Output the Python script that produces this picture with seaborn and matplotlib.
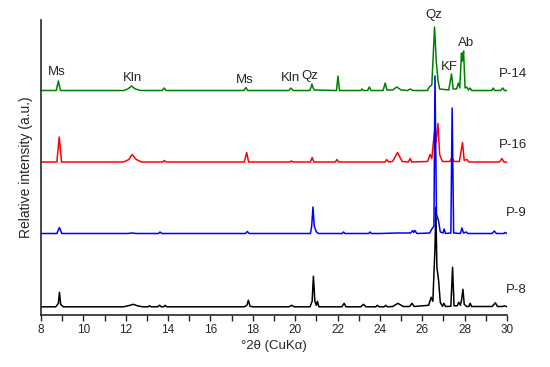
import matplotlib
matplotlib.use("Agg")
import matplotlib.pyplot as plt
import seaborn as sns
import pandas as pd
from matplotlib.ticker import MultipleLocator

# ---------------- data (2θ in degrees, intensity in a.u. above each trace's baseline) -------------
samples = ["P-8", "P-16", "P-9", "P-14"]
offsets = {"P-8": 7.7, "P-9": 81.0, "P-16": 152.5, "P-14": 224.0}
colors = {"P-8": "#000000", "P-9": "#0000FF", "P-16": "#FF0000", "P-14": "#008000"}

p8_x = [8.0, 8.7, 8.82, 8.87, 8.93, 9.05, 11.9, 12.2, 12.36, 12.55, 12.8, 13.05, 13.12, 13.2,
        13.5, 13.59, 13.68, 13.78, 13.86, 13.94, 17.6, 17.72, 17.79, 17.87, 18.0, 19.7, 19.84,
        19.95, 20.7, 20.8, 20.86, 20.93, 21.0, 21.05, 21.12, 22.2, 22.31, 22.4, 23.1, 23.22,
        23.35, 23.8, 23.88, 23.96, 24.2, 24.27, 24.35, 24.6, 24.85, 25.1, 25.4, 25.51, 25.62,
        26.3, 26.42, 26.5, 26.6, 26.64, 26.69, 26.77, 26.85, 26.95, 27.02, 27.1, 27.35, 27.43,
        27.5, 27.65, 27.72, 27.8, 27.86, 27.92, 27.98, 28.1, 28.2, 28.26, 28.33, 29.3, 29.45,
        29.55, 29.8, 29.87, 30.0]
p8_y = [0.5, 0.5, 4, 15, 3, 0.5, 0.5, 2, 3, 1.5, 0.5, 0.5, 1.5, 0.5,
        0.5, 2, 0.5, 0.5, 2, 0.5, 0.5, 2, 7, 1, 0.5, 0.5, 2,
        0.5, 0.5, 6, 31, 6, 2, 6, 0.5, 0.5, 4, 0.5, 0.5, 3,
        0.5, 0.5, 2, 0.5, 0.5, 2, 0.5, 0.8, 4, 0.8, 0.8, 4, 0.8,
        2, 10, 6, 60, 100, 40, 27, 5, 1, 4, 0.8, 1, 40,
        1.5, 1.5, 5, 2, 8, 18, 3, 0.8, 0.8, 4, 0.8, 0.8, 4.5,
        0.8, 0.8, 1.5, 0.5]

p9_x = [8.0, 8.75, 8.87, 8.98, 12.1, 12.3, 12.5, 13.55, 13.62, 13.7, 17.65, 17.74, 17.83,
        20.72, 20.78, 20.84, 20.9, 21.0, 21.1, 22.22, 22.28, 22.35, 23.47, 23.54, 23.6, 24.0,
        24.8, 25.45, 25.55, 25.6, 25.65, 25.75, 26.35, 26.45, 26.55, 26.6, 26.67, 26.77, 26.85,
        26.98, 27.03, 27.1, 27.35, 27.41, 27.48, 27.8, 27.87, 27.95, 28.08, 28.15, 29.3, 29.4,
        29.5, 29.85, 29.9, 30.0]
p9_y = [0.5, 0.5, 6.5, 0.5, 0.5, 1, 0.5, 0.5, 2, 0.5, 0.5, 2.5, 0.5,
        0.5, 8, 27, 8, 2, 0.5, 0.5, 2, 0.5, 0.5, 2, 0.5, 0.5,
        1, 1, 3.5, 1.5, 3.5, 0.5, 1, 5, 8, 158, 20, 13, 2,
        1, 5, 0.5, 1, 126, 1, 0.5, 6, 1, 2, 0.5, 0.5, 3,
        0.5, 0.5, 1.5, 0.5]

p16_x = [8.0, 8.75, 8.86, 8.97, 11.9, 12.15, 12.3, 12.5, 12.75, 13.75, 13.82, 13.9, 17.6, 17.71,
         17.8, 19.75, 19.82, 19.9, 20.72, 20.8, 20.88, 21.9, 21.97, 22.05, 24.25, 24.32, 24.4,
         24.6, 24.83, 25.05, 25.35, 25.43, 25.5, 26.25, 26.37, 26.45, 26.58, 26.65, 26.74, 26.82,
         26.95, 27.3, 27.4, 27.5, 27.75, 27.9, 27.98, 28.1, 28.2, 29.65, 29.76, 29.85, 30.0]
p16_y = [0.5, 0.5, 25.5, 0.5, 0.5, 3, 8, 3, 0.5, 0.5, 2, 0.5, 0.5, 10,
         0.5, 0.5, 1.5, 0.5, 0.5, 5, 0.5, 0.5, 3, 0.5, 0.5, 3, 0.5,
         1, 10, 1, 0.5, 4, 0.5, 1, 8, 4, 32, 20, 39, 8,
         1, 1, 5, 1, 1, 20, 2, 3, 0.5, 0.5, 4, 0.5, 0.5]

p14_x = [8.0, 8.72, 8.82, 8.92, 11.9, 12.1, 12.27, 12.45, 12.7, 13.72, 13.82, 13.9, 17.58, 17.67,
         17.76, 19.7, 19.8, 19.9, 20.7, 20.79, 20.85, 20.9, 21.95, 22.02, 22.09, 23.1, 23.16,
         23.22, 23.42, 23.5, 23.58, 24.15, 24.25, 24.33, 24.6, 24.8, 25.0, 25.3, 25.43, 25.55,
         26.25, 26.33, 26.45, 26.58, 26.66, 26.74, 26.82, 27.25, 27.38, 27.46, 27.62, 27.7,
         27.77, 27.85, 27.9, 27.95, 28.02, 28.1, 28.18, 28.26, 28.33, 29.28, 29.35, 29.42,
         29.7, 29.8, 29.88, 30.0]
p14_y = [0.5, 0.5, 10, 0.5, 0.5, 2, 5, 2, 0.5, 0.5, 3, 0.5, 0.5, 3.5,
         0.5, 0.5, 3, 0.5, 0.5, 7, 3, 1, 0.5, 15, 0.5, 0.5, 2,
         0.5, 0.5, 4, 0.5, 0.5, 8, 1, 1, 4, 1, 0.5, 2, 0.5,
         0.5, 4, 6, 64, 30, 11, 2, 1, 17, 2, 2, 8,
         3, 38, 30, 40, 3, 4, 1, 3, 0.5, 0.5, 3, 0.5,
         0.5, 3, 0.5, 0.5]

# phase labels on the top trace: (text, 2θ, height in a.u.)
phase_text = ["Ms", "Kln", "Ms", "Kln", "Qz", "Qz", "KF", "Ab"]
phase_pos = [8.74, 12.3, 17.64, 19.8, 20.7, 26.53, 27.3, 28.05]
phase_h = [242.7, 237.3, 235.0, 236.7, 239.0, 300.0, 248.3, 271.7]

label_h = {"P-14": 241, "P-16": 170, "P-9": 101.7, "P-8": 25}

# ---------------- build long table ----------------
series = {"P-8": (p8_x, p8_y), "P-9": (p9_x, p9_y), "P-16": (p16_x, p16_y), "P-14": (p14_x, p14_y)}
frames = []
for s in samples:
    xs, ys = series[s]
    frames.append(pd.DataFrame({"two_theta": xs, "intensity": ys, "sample": s}))
df = pd.concat(frames, ignore_index=True)
df["shifted"] = df["intensity"] + df["sample"].map(offsets)

# ---------------- plot ----------------
sns.set_style("ticks")
plt.rcParams["font.family"] = ["Liberation Sans", "DejaVu Sans"]

fig = plt.figure(figsize=(5.5, 3.67), dpi=100)
ax = fig.add_axes([41 / 550, 1 - 315 / 367, 466 / 550, 295 / 367])

sns.lineplot(data=df, x="two_theta", y="shifted", hue="sample", hue_order=samples,
             palette=colors, sort=False, estimator=None, legend=False, linewidth=1.1, ax=ax)

ax.set_xlim(8, 30)
ax.set_ylim(0, 295)
ax.xaxis.set_major_locator(MultipleLocator(2))
ax.xaxis.set_minor_locator(MultipleLocator(1))
ax.set_yticks([])
ax.tick_params(axis="x", which="both", direction="out", length=4, width=1, labelsize=8.5, pad=2.5)
for side in ["top", "right"]:
    ax.spines[side].set_visible(False)
for side in ["left", "bottom"]:
    ax.spines[side].set_linewidth(1.2)

ax.set_xlabel("°2θ (CuKα)", fontsize=9.5, labelpad=3)
ax.set_ylabel("Relative intensity (a.u.)", fontsize=10, labelpad=6)

for t, x, h in zip(phase_text, phase_pos, phase_h):
    ax.text(x, h, t, ha="center", va="center", fontsize=9.5, clip_on=False)

for s in samples:
    ax.text(30.94, label_h[s], s, ha="right", va="center", fontsize=9.5, clip_on=False)

fig.savefig("out.png", dpi=100)
